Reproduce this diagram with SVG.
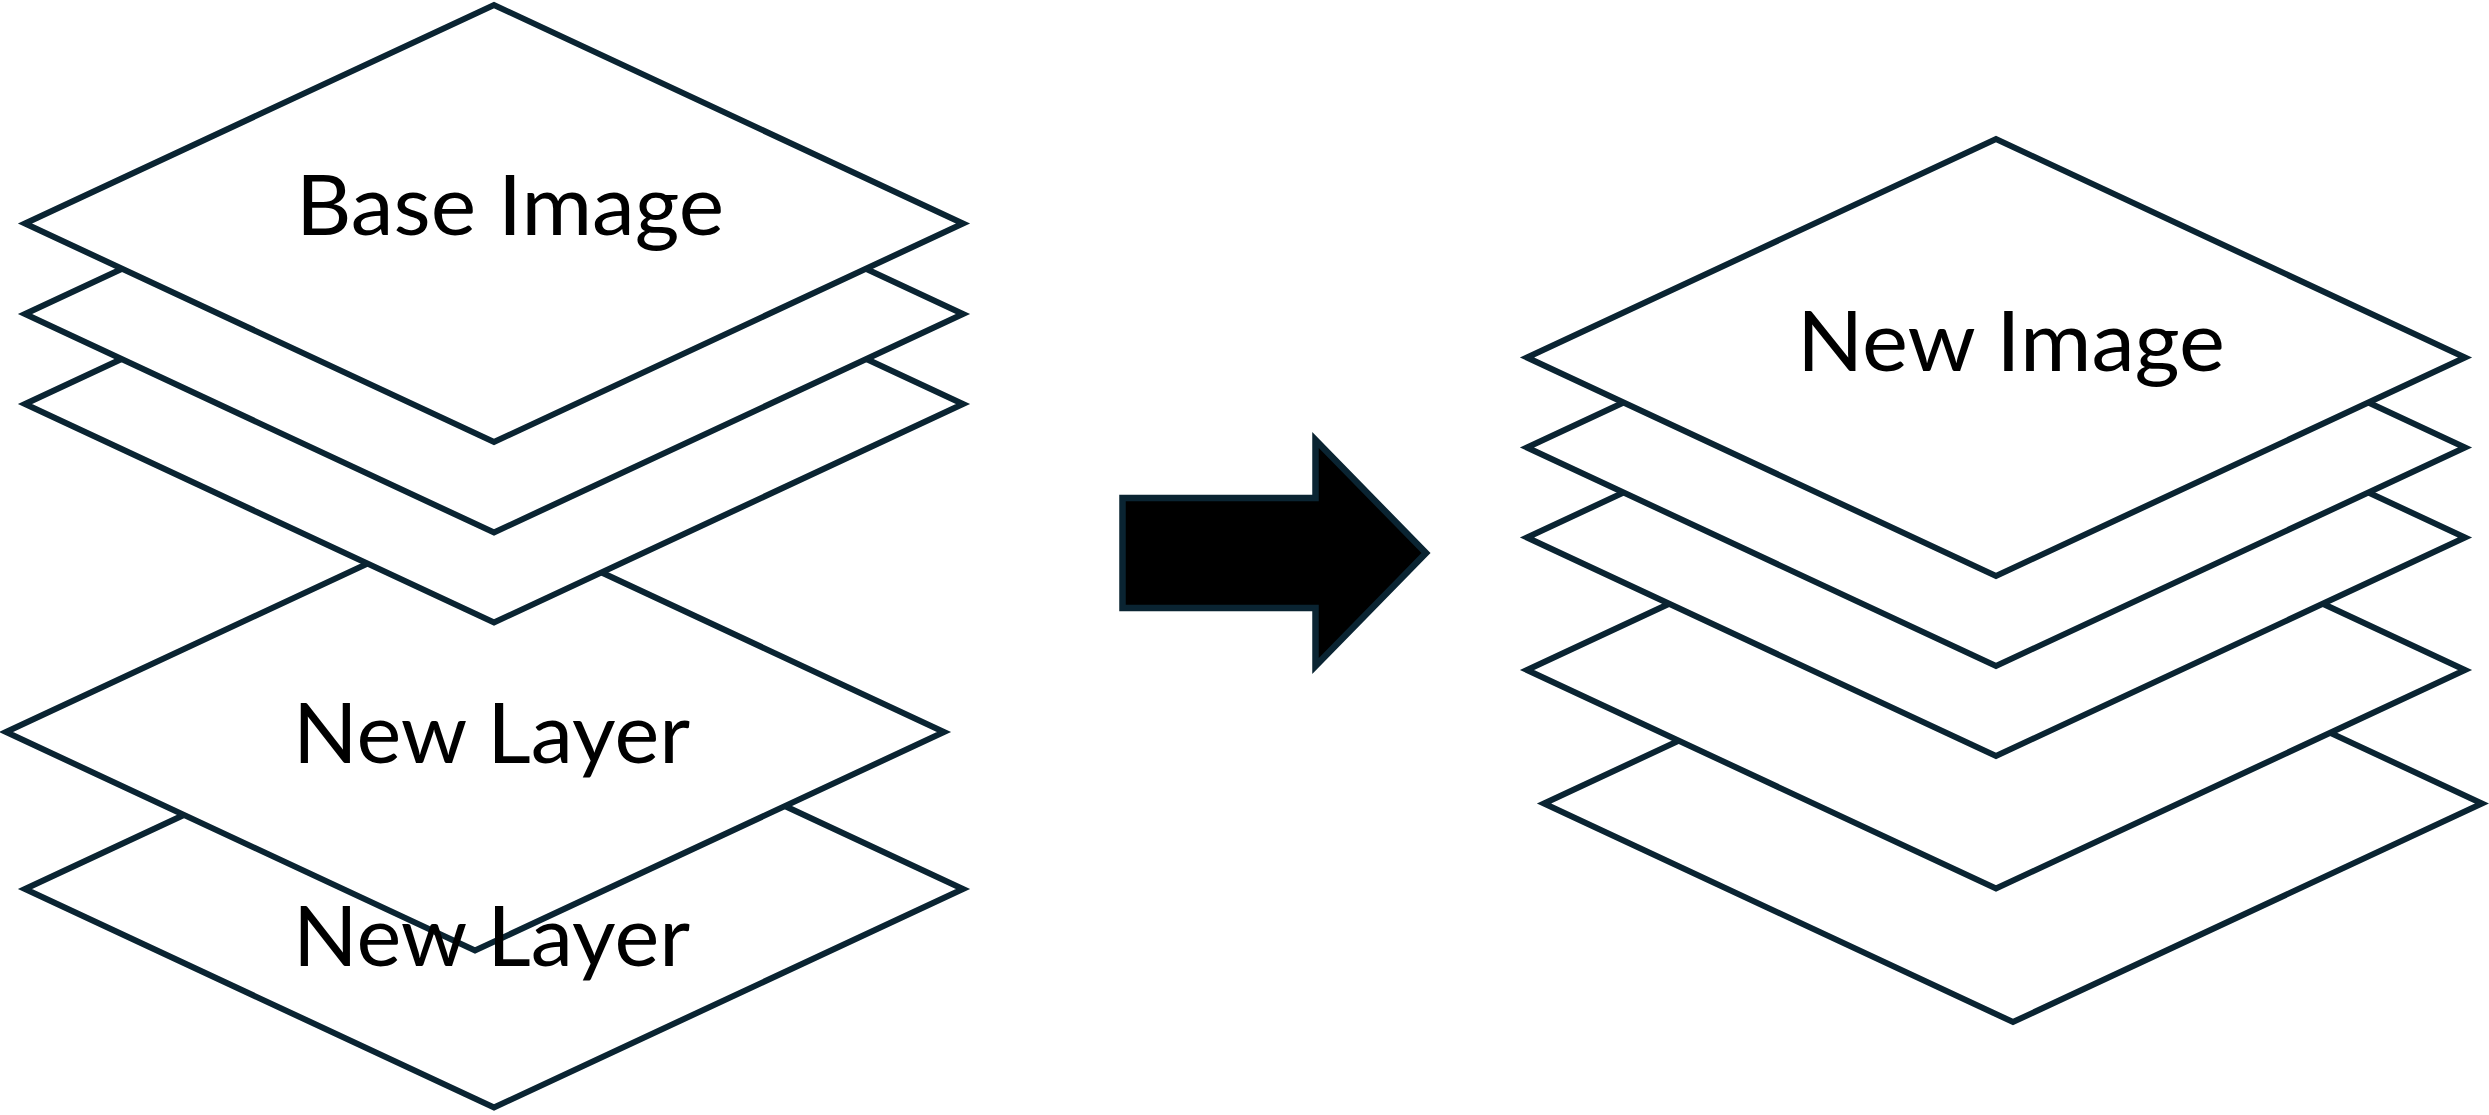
<svg xmlns="http://www.w3.org/2000/svg" width="2489" height="1115" viewBox="0 0 2489 1115">
<style>
.layer{fill:#ffffff;stroke:#0a2432;stroke-width:6;stroke-linejoin:miter}
.lbl{font-family:Lato,"Noto Sans","Liberation Sans",sans-serif;font-size:84px;fill:#000000;text-anchor:middle}
.arrow{fill:#000000;stroke:#0a2432;stroke-width:6.5;stroke-linejoin:miter}
</style>
<g id="left-stack">
<g id="layer-e"><polygon class="layer" points="25,889 494,670.5 963,889 494,1107.5"/></g>
<g id="layer-d"><polygon class="layer" points="6,732 475,513.5 944,732 475,950.5"/></g>
<g id="layer-c"><polygon class="layer" points="25,404 494,185.5 963,404 494,622.5"/></g>
<g id="layer-b"><polygon class="layer" points="25,314 494,95.5 963,314 494,532.5"/></g>
<g id="base-image"><polygon class="layer" points="25,223.5 494,5 963,223.5 494,442"/></g>
</g>
<g id="right-stack">
<g id="r5"><polygon class="layer" points="1544,803.5 2013,585 2482,803.5 2013,1022"/></g>
<g id="r4"><polygon class="layer" points="1527,670 1996,451.5 2465,670 1996,888.5"/></g>
<g id="r3"><polygon class="layer" points="1527,537.5 1996,319 2465,537.5 1996,756"/></g>
<g id="r2"><polygon class="layer" points="1527,447.5 1996,229 2465,447.5 1996,666"/></g>
<g id="new-image"><polygon class="layer" points="1527,357.5 1996,139 2465,357.5 1996,576"/></g>
</g>
<g id="connectors">
<polygon class="arrow" points="1122.5,498 1315.5,498 1315.5,440 1426,553 1315.5,666 1315.5,608 1122.5,608"/>
</g>
<g id="labels">
<text class="lbl" x="510" y="235" textLength="428" lengthAdjust="spacingAndGlyphs">Base Image</text>
<text class="lbl" x="491.5" y="763" textLength="397" lengthAdjust="spacingAndGlyphs">New Layer</text>
<text class="lbl" x="491.5" y="966" textLength="397" lengthAdjust="spacingAndGlyphs">New Layer</text>
<text class="lbl" x="2011" y="371" textLength="428" lengthAdjust="spacingAndGlyphs">New Image</text>
</g>
</svg>
